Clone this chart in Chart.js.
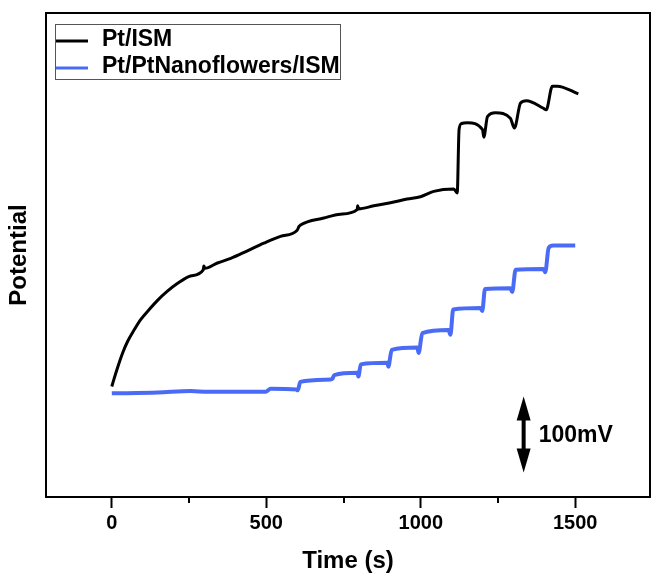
<!DOCTYPE html>
<html>
<head>
<meta charset="utf-8">
<script src="https://cdn.jsdelivr.net/npm/chart.js@4.4.0/dist/chart.umd.min.js"></script>
<style>
  html, body { margin: 0; padding: 0; background: #fff; }
  #wrap { width: 651px; height: 577px; }
</style>
</head>
<body>
<div id="wrap"><canvas id="chart" width="651" height="577"></canvas></div>
<script>
// --- data (time in s, potential in mV, arbitrary offset) ---
const ismTime = [0, 8, 18, 35, 51, 72, 94, 121, 148, 180, 212, 255, 296, 298, 301, 342, 385, 439, 492, 546, 600, 606, 611, 686, 740, 794, 796, 799, 848, 902, 956, 999, 1042, 1107, 1118, 1124, 1132, 1151, 1200, 1204, 1216, 1242, 1290, 1303, 1323, 1342, 1397, 1406, 1426, 1442, 1510];
const ismPotential = [155, 166, 179, 199, 214, 229, 243, 256, 268, 280, 290, 300, 308, 313, 310, 317, 323, 333, 343, 352, 360, 365, 367, 376, 381, 387, 392, 388, 392, 396, 401, 404, 411, 414, 409, 492, 500, 501, 492, 482, 509, 514, 507, 494, 527, 530, 520, 518, 549, 549, 539];

const nanoTime = [0, 149, 255, 310, 498, 514, 598, 602, 610, 708, 714, 720, 795, 798, 806, 892, 895, 906, 989, 993, 1005, 1090, 1096, 1105, 1193, 1199, 1208, 1290, 1296, 1307, 1397, 1403, 1414, 1429, 1500];
const nanoPotential = [146, 147, 149, 148, 148, 152, 151, 150, 161, 164, 165, 170, 173, 168, 184, 186, 181, 203, 206, 199, 225, 229, 223, 256, 258, 254, 283, 284, 279, 308, 309, 305, 337, 340, 340];

const seriesLabels = ["Pt/ISM", "Pt/PtNanoflowers/ISM"];
const xTicks = [0, 250, 500, 750, 1000, 1250, 1500];
const scaleBar = { time: 1333, from: 42, to: 142, label: "100mV" };

const FONT = "'Liberation Sans', Arial, sans-serif";
const BLUE = "#4a6cf4";

const toPts = (xs, ys) => xs.map((x, i) => ({ x, y: ys[i] }));

// frame, minor ticks, legend and the 100 mV bar
const decorPlugin = {
  id: "decor",
  afterDraw(chart) {
    const { ctx, chartArea: a, scales } = chart;
    ctx.save();
    ctx.strokeStyle = "#000";
    ctx.lineWidth = 2;
    ctx.strokeRect(a.left, a.top, a.right - a.left, a.bottom - a.top);

    // minor ticks
    xTicks.filter(v => v % 500 !== 0).forEach(v => {
      const px = Math.round(scales.x.getPixelForValue(v));
      ctx.beginPath();
      ctx.moveTo(px, a.bottom);
      ctx.lineTo(px, a.bottom + 6);
      ctx.stroke();
    });

    // legend
    ctx.lineWidth = 1;
    ctx.strokeStyle = "#555";
    ctx.strokeRect(55.5, 24.5, 285, 55);
    ctx.font = "bold 23px " + FONT;
    ctx.textBaseline = "alphabetic";
    ctx.fillStyle = "#000";
    chart.data.datasets.forEach((ds, i) => {
      const base = 46 + i * 27;
      ctx.strokeStyle = ds.borderColor;
      ctx.lineWidth = 3;
      ctx.beginPath();
      ctx.moveTo(56, base - 5);
      ctx.lineTo(88, base - 5);
      ctx.stroke();
      ctx.fillText(ds.label, 102, base);
    });

    // scale bar arrow
    const ax = scales.x.getPixelForValue(scaleBar.time);
    const yTop = scales.y.getPixelForValue(scaleBar.to);
    const yBot = scales.y.getPixelForValue(scaleBar.from);
    ctx.fillStyle = "#000";
    ctx.strokeStyle = "#000";
    ctx.lineWidth = 4;
    ctx.beginPath();
    ctx.moveTo(ax, yTop + 18);
    ctx.lineTo(ax, yBot - 18);
    ctx.stroke();
    ctx.beginPath();
    ctx.moveTo(ax, yTop);
    ctx.lineTo(ax - 7, yTop + 24);
    ctx.lineTo(ax + 7, yTop + 24);
    ctx.closePath();
    ctx.fill();
    ctx.beginPath();
    ctx.moveTo(ax, yBot);
    ctx.lineTo(ax - 7, yBot - 24);
    ctx.lineTo(ax + 7, yBot - 24);
    ctx.closePath();
    ctx.fill();
    ctx.font = "bold 23px " + FONT;
    ctx.fillText(scaleBar.label, ax + 15, (yTop + yBot) / 2 + 8);
    ctx.restore();
  }
};

new Chart(document.getElementById("chart"), {
  type: "line",
  data: {
    datasets: [
      { label: seriesLabels[0], data: toPts(ismTime, ismPotential), borderColor: "#000", borderWidth: 3, pointRadius: 0, cubicInterpolationMode: "monotone", fill: false },
      { label: seriesLabels[1], data: toPts(nanoTime, nanoPotential), borderColor: BLUE, borderWidth: 4, pointRadius: 0, cubicInterpolationMode: "monotone", fill: false }
    ]
  },
  options: {
    responsive: false,
    animation: false,
    layout: { padding: { top: 13, right: 1, left: 0, bottom: 0 } },
    plugins: { legend: { display: false }, tooltip: { enabled: false } },
    scales: {
      x: {
        type: "linear",
        min: -213,
        max: 1742,
        afterBuildTicks: (s) => { s.ticks = xTicks.map(v => ({ value: v })); },
        afterFit: (s) => { s.height = 80; },
        grid: {
          drawOnChartArea: false,
          tickLength: 11,
          tickWidth: 2,
          tickColor: (c) => (c.tick && c.tick.value % 500 === 0) ? "#000" : "rgba(0,0,0,0)"
        },
        border: { display: true, color: "#000", width: 2 },
        ticks: {
          color: "#000",
          padding: 3,
          maxRotation: 0,
          autoSkip: false,
          font: { family: FONT, size: 20, weight: "bold" },
          callback: (v) => (v % 500 === 0 ? String(v) : "")
        },
        title: {
          display: true,
          text: "Time (s)",
          color: "#000",
          padding: { top: 0, bottom: 1 },
          font: { family: FONT, size: 24, weight: "bold" }
        }
      },
      y: {
        min: 10,
        max: 645,
        afterFit: (s) => { s.width = 46; },
        grid: { display: false },
        border: { display: true, color: "#000", width: 2 },
        ticks: { display: false },
        title: {
          display: true,
          text: "Potential",
          color: "#000",
          padding: { top: 5, bottom: 0 },
          font: { family: FONT, size: 24, weight: "bold" }
        }
      }
    }
  },
  plugins: [decorPlugin]
});
</script>
</body>
</html>
